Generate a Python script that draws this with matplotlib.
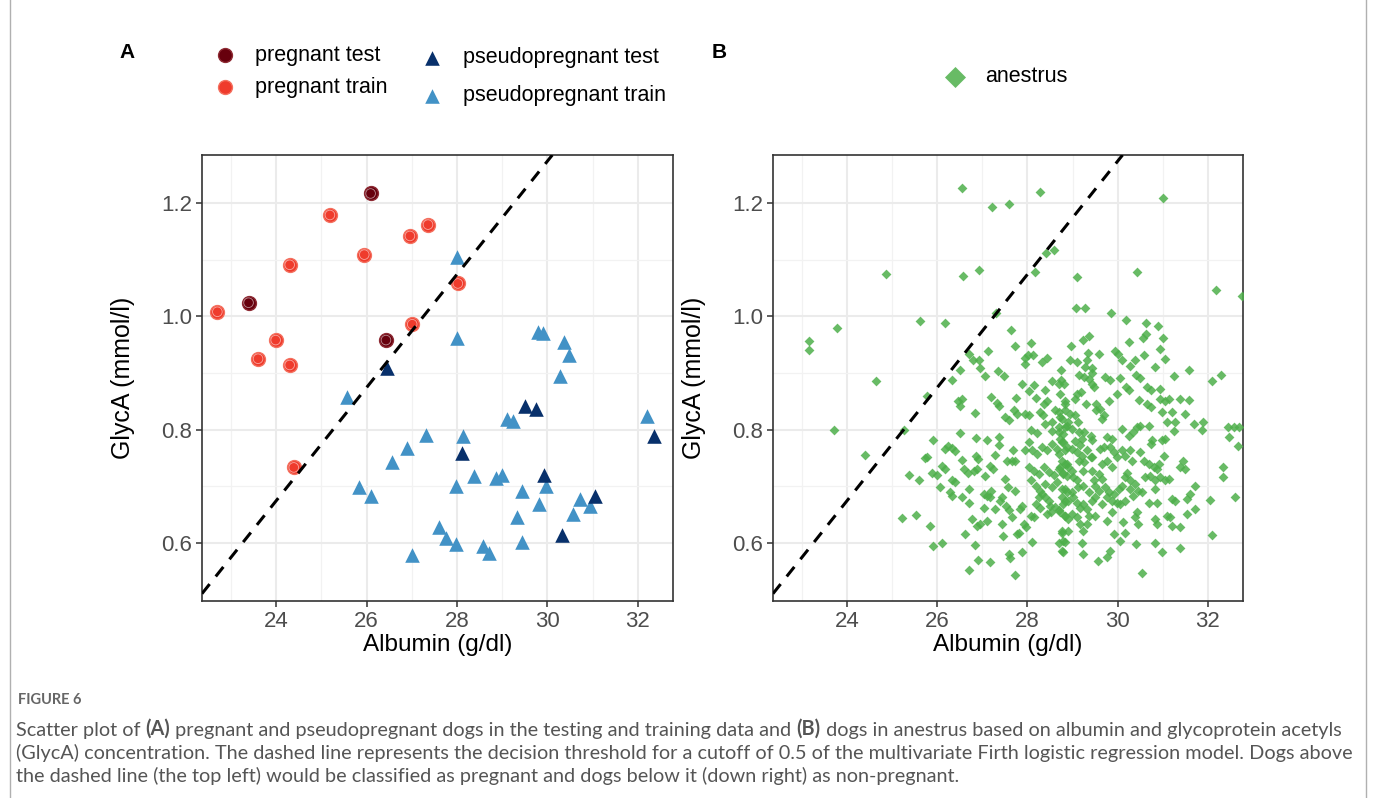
import matplotlib
matplotlib.use("Agg")
import matplotlib.pyplot as plt

plt.rcParams['font.family'] = ['Liberation Sans', 'DejaVu Sans']

# ---- panel A data (albumin g/dl, GlycA mmol/l) ----
preg_test_alb = [23.39, 26.09, 26.43]
preg_test_glyca = [1.024, 1.217, 0.958]

preg_train_alb = [22.70, 25.19, 24.30, 25.95, 26.96, 27.36, 28.02, 27.01, 23.99, 23.60, 24.30, 24.39]
preg_train_glyca = [1.008, 1.179, 1.091, 1.109, 1.142, 1.162, 1.058, 0.986, 0.958, 0.925, 0.914, 0.733]

pseudo_test_alb = [26.46, 28.11, 29.50, 29.76, 29.93, 31.06, 30.32, 32.35]
pseudo_test_glyca = [0.908, 0.758, 0.842, 0.837, 0.719, 0.682, 0.613, 0.789]

pseudo_train_alb = [28.01, 28.01, 29.79, 29.90, 30.37, 30.48, 30.27, 25.56, 29.11, 29.25,
                    32.21, 27.32, 28.14, 26.90, 26.56, 28.37, 28.87, 28.99, 25.83, 27.98,
                    26.10, 29.44, 29.97, 30.72, 29.82, 30.94, 30.57, 29.33, 27.60, 27.75,
                    27.98, 28.57, 28.72, 29.44, 27.00]
pseudo_train_glyca = [1.104, 0.962, 0.973, 0.970, 0.955, 0.932, 0.895, 0.857, 0.819, 0.815,
                      0.824, 0.791, 0.788, 0.768, 0.743, 0.717, 0.715, 0.720, 0.699, 0.700,
                      0.683, 0.691, 0.700, 0.677, 0.669, 0.665, 0.650, 0.645, 0.628, 0.608,
                      0.598, 0.595, 0.581, 0.602, 0.578]

# ---- panel B data (anestrus) ----
anes_alb = [
    26.55, 28.29, 27.21, 27.60, 31.01, 28.41, 28.60, 24.86, 26.58, 26.92, 28.16, 29.11, 30.44, 32.19,
    29.08, 29.27, 29.85, 27.31, 25.61, 26.18, 23.77, 23.15, 23.15, 30.19, 30.63, 30.89, 27.64, 29.36,
    29.24, 30.25, 30.62, 30.56, 31.00, 28.09, 27.72, 28.97, 30.95, 27.12, 26.71, 29.34, 29.59, 29.95,
    30.59, 26.79, 26.92, 27.95, 28.02, 28.13, 28.32, 28.43, 28.95, 29.10, 29.32, 30.01, 30.10, 30.39,
    31.06, 27.95, 26.51, 26.96, 27.35, 28.75, 29.27, 29.43, 30.28, 30.84, 31.58,
    24.65, 23.72, 24.39, 25.27, 25.74, 25.77, 25.37, 25.59, 25.22, 25.52, 25.83, 25.77,
    26.33, 26.47, 26.54, 26.51, 27.07, 27.48, 27.87, 28.14, 26.83, 27.20, 27.33, 27.36, 27.75, 28.03,
    28.18, 28.40, 28.55, 28.69, 28.36, 28.43, 27.51, 27.59, 27.70, 27.77, 27.95, 28.03, 28.29, 28.34,
    28.62, 28.69, 28.55, 28.84, 26.51, 26.85, 27.10, 27.36, 25.91, 26.18, 26.25, 26.33, 26.39, 26.55,
    26.85, 26.91, 27.28, 27.36, 27.55, 27.66, 27.73, 27.68, 27.94, 28.03, 28.09, 28.22, 26.11, 26.18,
    25.88, 25.99, 26.59, 26.68, 26.81, 26.88, 26.33, 26.39, 27.07, 27.18, 27.23, 27.51, 26.07, 26.29,
    26.33, 26.55, 26.71, 26.70, 27.03, 27.10, 27.16, 27.20, 27.03, 27.29, 27.40, 27.44, 27.57, 27.53,
    27.59, 27.73, 27.88, 27.84, 27.66, 27.77, 27.81, 27.92, 27.97, 28.10, 28.07, 28.14, 28.25, 28.33,
    28.40, 28.47, 28.62, 28.69, 28.84, 28.43, 28.53, 28.77, 28.69, 28.84, 28.78, 25.90, 26.11,
    26.62, 26.77, 26.88, 26.96, 27.10, 27.44, 27.46, 26.83, 26.91, 26.70, 27.18, 27.60, 27.62, 27.87,
    27.73,
    28.03, 28.14, 28.25, 28.36, 28.47, 28.58, 28.69, 28.80, 28.88, 28.07, 28.18, 28.29, 28.40, 28.55,
    28.66, 28.77, 28.88, 28.10, 28.22, 28.33, 28.43, 28.55, 28.66, 28.77, 28.88, 28.69, 28.18, 28.29,
    28.51, 28.84, 28.55, 28.69, 28.84, 28.40, 28.77,
    32.30, 31.26, 32.09, 29.14, 29.25, 29.36, 29.43, 29.73, 29.84, 30.06, 30.41, 30.50, 28.75, 28.81,
    29.43, 29.47, 29.10, 29.18, 29.06, 29.51, 29.80, 29.99, 30.18, 30.25, 30.65, 30.75, 30.95, 30.47,
    30.65, 30.73, 30.95, 31.04, 31.13, 31.39, 31.58, 31.50, 31.20, 30.98, 31.09, 31.28, 31.69, 31.89,
    31.86, 28.84, 28.95, 29.06, 28.73, 29.51, 29.62, 29.69, 29.66, 29.29, 28.88, 28.99, 29.14, 29.25,
    29.40, 29.43, 29.77, 29.88, 30.10, 30.25, 30.34, 30.43, 30.50, 30.69, 30.76, 30.73, 30.98, 31.05,
    31.24, 28.73, 28.80, 28.99, 29.10, 29.21, 29.32, 29.40, 29.14, 29.25, 29.62, 29.69, 29.84, 29.91,
    29.99, 30.10, 30.17, 30.28, 30.32, 30.50, 30.58, 30.69, 30.80, 30.91, 30.87, 31.02, 31.39, 31.50,
    31.44, 32.05, 32.09,
    28.76, 28.84, 28.91, 28.99, 28.73, 28.80, 28.87, 29.02, 29.10, 29.43, 29.58, 29.65, 29.47, 29.50,
    29.36, 29.58, 29.72, 29.80, 29.91, 30.02, 30.09, 30.17, 30.20, 30.28, 30.39, 30.46, 30.54, 30.35,
    30.28, 30.61, 30.72, 30.83, 30.94, 31.05, 31.13, 30.83, 30.69, 30.87, 31.20, 31.28, 31.54, 31.61,
    31.72, 28.76, 28.80, 28.91, 29.02, 29.10, 29.17, 29.24, 29.32, 29.43, 29.50, 29.65, 29.76, 29.87,
    29.98, 30.06, 30.17, 28.73, 28.84, 28.91, 28.99, 29.10, 29.17, 29.24, 29.32, 29.36, 29.50, 30.43,
    30.39, 30.46, 30.13, 30.17, 30.06, 29.91, 29.87, 29.76, 30.83, 30.87, 31.09, 31.17, 31.20, 31.39,
    31.54, 31.72, 28.76, 28.80, 28.91, 29.21, 29.24, 28.76, 29.56, 29.76, 29.84, 30.40, 30.54, 30.82,
    30.98, 31.39,
    28.73, 28.84, 28.91, 28.69, 29.13, 28.80, 29.06, 29.21, 28.84, 29.17, 29.43, 29.65, 29.76, 29.87,
    29.24, 29.13, 28.99, 28.84, 29.24,
    32.44, 32.57, 32.70, 32.47, 32.67, 32.61, 32.76, 32.34, 32.34,
]
anes_glyca = [
    1.227, 1.220, 1.194, 1.198, 1.209, 1.112, 1.118, 1.074, 1.072, 1.082, 1.078, 1.069, 1.079, 1.047,
    1.014, 1.015, 1.005, 1.005, 0.991, 0.989, 0.979, 0.957, 0.940, 0.994, 0.988, 0.983, 0.976, 0.966,
    0.959, 0.955, 0.969, 0.962, 0.962, 0.952, 0.948, 0.947, 0.942, 0.939, 0.934, 0.935, 0.933, 0.939,
    0.932, 0.923, 0.923, 0.927, 0.932, 0.931, 0.920, 0.926, 0.922, 0.920, 0.922, 0.933, 0.923, 0.923,
    0.924, 0.916, 0.906, 0.909, 0.904, 0.906, 0.910, 0.909, 0.912, 0.910, 0.905,
    0.885, 0.800, 0.755, 0.799, 0.750, 0.752, 0.719, 0.711, 0.644, 0.649, 0.630, 0.860,
    0.887, 0.850, 0.854, 0.842, 0.894, 0.894, 0.881, 0.878, 0.829, 0.857, 0.847, 0.841, 0.856, 0.868,
    0.856, 0.869, 0.886, 0.881, 0.845, 0.851, 0.822, 0.816, 0.834, 0.828, 0.828, 0.825, 0.831, 0.825,
    0.834, 0.831, 0.813, 0.845, 0.794, 0.785, 0.781, 0.786, 0.782, 0.766, 0.770, 0.768, 0.762, 0.746,
    0.754, 0.748, 0.755, 0.772, 0.745, 0.745, 0.745, 0.763, 0.764, 0.778, 0.799, 0.794, 0.736, 0.730,
    0.724, 0.719, 0.730, 0.724, 0.727, 0.730, 0.711, 0.707, 0.717, 0.736, 0.730, 0.713, 0.698, 0.689,
    0.683, 0.680, 0.695, 0.671, 0.686, 0.683, 0.680, 0.692, 0.662, 0.660, 0.674, 0.680, 0.698, 0.665,
    0.657, 0.692, 0.665, 0.660, 0.645, 0.615, 0.618, 0.633, 0.627, 0.601, 0.648, 0.645, 0.680, 0.686,
    0.680, 0.674, 0.663, 0.657, 0.648, 0.651, 0.654, 0.621, 0.599, 0.601, 0.583, 0.595, 0.599,
    0.615, 0.642, 0.630, 0.633, 0.638, 0.633, 0.612, 0.596, 0.569, 0.552, 0.566, 0.580, 0.573, 0.584,
    0.543,
    0.733, 0.727, 0.722, 0.733, 0.725, 0.719, 0.730, 0.722, 0.739, 0.710, 0.701, 0.692, 0.704, 0.698,
    0.707, 0.695, 0.689, 0.763, 0.757, 0.769, 0.763, 0.775, 0.766, 0.778, 0.769, 0.757, 0.668, 0.662,
    0.665, 0.674, 0.798, 0.795, 0.804, 0.810, 0.819,
    0.896, 0.894, 0.886, 0.896, 0.893, 0.890, 0.899, 0.893, 0.887, 0.891, 0.896, 0.891, 0.887, 0.881,
    0.881, 0.875, 0.863, 0.866, 0.854, 0.845, 0.851, 0.863, 0.875, 0.869, 0.875, 0.869, 0.872, 0.852,
    0.845, 0.840, 0.854, 0.851, 0.854, 0.854, 0.852, 0.828, 0.831, 0.831, 0.813, 0.813, 0.810, 0.813,
    0.800, 0.834, 0.828, 0.825, 0.822, 0.834, 0.837, 0.825, 0.819, 0.845, 0.807, 0.801, 0.795, 0.795,
    0.789, 0.781, 0.786, 0.783, 0.801, 0.789, 0.795, 0.804, 0.807, 0.807, 0.781, 0.775, 0.781, 0.784,
    0.798, 0.783, 0.778, 0.766, 0.760, 0.754, 0.763, 0.751, 0.745, 0.742, 0.766, 0.769, 0.769, 0.760,
    0.751, 0.763, 0.754, 0.763, 0.745, 0.760, 0.745, 0.739, 0.733, 0.739, 0.730, 0.754, 0.733, 0.730,
    0.745, 0.675, 0.614,
    0.745, 0.739, 0.733, 0.727, 0.733, 0.724, 0.718, 0.716, 0.710, 0.727, 0.721, 0.713, 0.710, 0.701,
    0.689, 0.692, 0.698, 0.689, 0.686, 0.695, 0.701, 0.716, 0.724, 0.710, 0.704, 0.692, 0.689, 0.683,
    0.695, 0.716, 0.718, 0.710, 0.716, 0.710, 0.713, 0.695, 0.671, 0.671, 0.677, 0.674, 0.677, 0.686,
    0.701, 0.680, 0.668, 0.674, 0.680, 0.671, 0.662, 0.668, 0.659, 0.674, 0.680, 0.668, 0.680, 0.674,
    0.671, 0.668, 0.674, 0.654, 0.648, 0.642, 0.651, 0.645, 0.633, 0.621, 0.633, 0.648, 0.648, 0.654,
    0.645, 0.633, 0.636, 0.618, 0.603, 0.615, 0.654, 0.639, 0.642, 0.633, 0.648, 0.645, 0.630, 0.627,
    0.651, 0.659, 0.618, 0.603, 0.621, 0.600, 0.580, 0.586, 0.568, 0.574, 0.586, 0.598, 0.547, 0.600,
    0.583, 0.590,
    0.863, 0.851, 0.813, 0.804, 0.813, 0.792, 0.780, 0.783, 0.763, 0.772, 0.751, 0.739, 0.745, 0.733,
    0.727, 0.698, 0.689, 0.695, 0.701,
    0.804, 0.804, 0.804, 0.786, 0.770, 0.681, 1.036, 0.734, 0.716,
]

# decision threshold (cutoff 0.5): GlycA = slope * albumin + intercept
thr_slope = 0.1
thr_intercept = -1.726

xticks = [24, 26, 28, 30, 32]
yticks = [0.6, 0.8, 1.0, 1.2]

W, H = 1375, 798
fig = plt.figure(figsize=(W / 100, H / 100), dpi=100)
axA = fig.add_axes([202 / W, 197 / H, 471 / W, 446 / H])
axB = fig.add_axes([773 / W, 197 / H, 470 / W, 446 / H])

for ax in (axA, axB):
    ax.set_xlim(22.36, 32.78)
    ax.set_ylim(0.497, 1.285)
    ax.set_xticks(xticks)
    ax.set_xticks([23, 25, 27, 29, 31], minor=True)
    ax.set_yticks(yticks)
    ax.set_yticklabels(['0.6', '0.8', '1.0', '1.2'])
    ax.set_yticks([0.7, 0.9, 1.1], minor=True)
    ax.grid(which='major', color='#EBEBEB', lw=1.5)
    ax.grid(which='minor', color='#F2F2F2', lw=0.9)
    ax.set_axisbelow(True)
    ax.tick_params(which='major', length=4, width=1.1, color='#333333',
                   labelsize=16, labelcolor='#4D4D4D', pad=3)
    ax.tick_params(which='minor', length=0)
    for s in ax.spines.values():
        s.set_color('#333333')
        s.set_linewidth(1.2)
    ax.set_xlabel('Albumin (g/dl)', fontsize=17.5, labelpad=2)
    ax.set_ylabel('GlycA (mmol/l)', fontsize=18, labelpad=19)
    ax.axline((0, thr_intercept), slope=thr_slope, color='black', lw=2.2,
              linestyle=(0, (4, 3.2)), zorder=4)

# panel A points
def circles(ax, x, y, col, ring):
    ax.scatter(x, y, s=100, c=col, edgecolors=ring, linewidths=1.0, zorder=3)
    ax.scatter(x, y, s=48, facecolors='none', edgecolors='white', linewidths=0.6,
               alpha=0.55, zorder=3)

circles(axA, preg_test_alb, preg_test_glyca, '#67000D', '#8E2A33')
circles(axA, preg_train_alb, preg_train_glyca, '#EF3B2C', '#F4705F')
axA.scatter(pseudo_train_alb, pseudo_train_glyca, s=110, marker='^', c='#4292C6',
            linewidths=0, zorder=3)
axA.scatter(pseudo_test_alb, pseudo_test_glyca, s=110, marker='^', c='#08306B',
            linewidths=0, zorder=3)

# panel B points
axB.scatter(anes_alb, anes_glyca, s=25, marker='D', c='#4DAF4A', alpha=0.85,
            linewidths=0, zorder=3)

# overlay in pixel coordinates for legends, labels, caption and frame
lax = fig.add_axes([0, 0, 1, 1], zorder=10)
lax.set_xlim(0, W)
lax.set_ylim(H, 0)
lax.axis('off')
lax.patch.set_alpha(0)

lax.plot([10, 10], [0, H], color='#B0B0B0', lw=1)
lax.plot([1366, 1366], [0, H], color='#B0B0B0', lw=1)

lax.text(127, 53, 'A', fontsize=15, fontweight='bold', va='center', ha='center')
lax.text(719, 53, 'B', fontsize=15, fontweight='bold', va='center', ha='center')

leg_fs = 15.5
lax.scatter([225], [55], s=100, c='#67000D', edgecolors='#8E2A33', lw=1.0)
lax.scatter([225], [87], s=100, c='#EF3B2C', edgecolors='#F4705F', lw=1.0)
lax.scatter([432], [58], s=110, marker='^', c='#08306B', lw=0)
lax.scatter([432], [96], s=110, marker='^', c='#4292C6', lw=0)
lax.text(255, 55, 'pregnant test', fontsize=leg_fs, va='center')
lax.text(255, 87, 'pregnant train', fontsize=leg_fs, va='center')
lax.text(463, 58, 'pseudopregnant test', fontsize=leg_fs, va='center')
lax.text(463, 96, 'pseudopregnant train', fontsize=leg_fs, va='center')

lax.scatter([955], [77], s=115, marker='D', c='#4DAF4A', alpha=0.85, lw=0)
lax.text(985, 77, 'anestrus', fontsize=leg_fs, va='center')

# caption
cap_font = 'Lato'
cap_col = '#555555'
lax.text(18, 700, 'FIGURE 6', fontsize=10.5, color='#666666', family=cap_font,
         fontweight='bold', va='center')

def rich_line(x, y, parts, fs=14.3):
    t = lax.text(x, y, parts[0][0], fontsize=fs, color=cap_col, family=cap_font,
                 fontweight=parts[0][1], va='bottom')
    for s, w in parts[1:]:
        t = lax.annotate(s, xy=(1, 0), xycoords=t, va='bottom', ha='left', fontsize=fs,
                         color=cap_col, family=cap_font, fontweight=w)

rich_line(16, 739, [('Scatter plot of ', 'normal'), ('(A)', 'bold'),
                    (' pregnant and pseudopregnant dogs in the testing and training data and ', 'normal'),
                    ('(B)', 'bold'),
                    (' dogs in anestrus based on albumin and glycoprotein acetyls', 'normal')])
rich_line(16, 762, [('(GlycA) concentration. The dashed line represents the decision threshold for a cutoff '
                     'of 0.5 of the multivariate Firth logistic regression model. Dogs above', 'normal')])
rich_line(16, 785, [('the dashed line (the top left) would be classified as pregnant and dogs below it '
                     '(down right) as non-pregnant.', 'normal')])

fig.savefig('out.png', dpi=100)
